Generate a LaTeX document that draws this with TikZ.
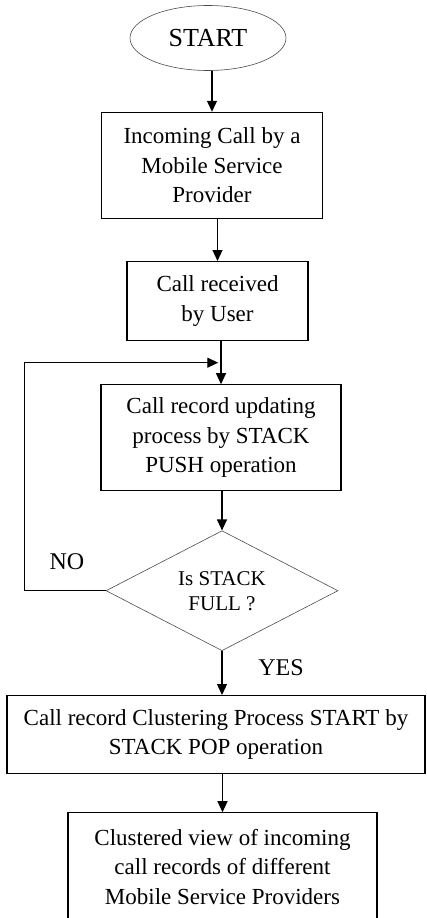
\documentclass[tikz,border=0pt]{standalone}
\usepackage{fontspec}
\setmainfont{Liberation Serif}
\usetikzlibrary{
    arrows.meta,
    shapes.geometric,
    positioning,
    calc
}
\tikzstyle{terminal} = [
    ellipse,
    draw=black!70,
    line width=0.6pt,
    minimum width=156pt,
    minimum height=65pt,
    inner sep=0pt,
    font=\fontsize{26}{30}\selectfont
]
\tikzstyle{process} = [
    rectangle,
    draw=black,
    line width=1.2pt,
    align=center,
    inner sep=0pt,
    font=\fontsize{23}{29.5}\selectfont
]
\tikzstyle{decision} = [
    diamond,
    aspect=1.93,
    draw=black!70,
    line width=0.6pt,
    minimum width=232pt,
    minimum height=120pt,
    inner sep=0pt,
    align=center,
    font=\fontsize{21}{25}\selectfont
]
\tikzstyle{flow} = [
    -{Triangle[length=11pt,width=10pt]},
    line width=1.2pt,
    draw=black
]
\tikzstyle{answer} = [
    font=\fontsize{24}{28}\selectfont
]

\begin{document}
\begin{tikzpicture}
        \useasboundingbox (0,0) rectangle (426pt,-918pt);
        % Flow diagram
        \node[terminal] (start) at (208pt,-38pt) {START};
        \node[process, minimum width=221pt, minimum height=106pt, below=41pt of start, xshift=4pt] (incoming) {Incoming Call by a\\Mobile Service\\Provider};
        \node[process, minimum width=181pt, minimum height=79pt, below=42pt of incoming, xshift=5.5pt] (received) {Call received\\by User};
        \node[process, minimum width=240pt, minimum height=106pt, below=43pt of received, xshift=3.5pt] (push) {Call record updating\\process by STACK\\PUSH operation};
        \node[decision, below=39pt of push, xshift=1pt] (full) {Is STACK\\FULL ?};
        \node[process, minimum width=418pt, minimum height=78pt, below=44pt of full, xshift=-6pt] (pop) {Call record Clustering Process START by\\STACK POP operation};
        \node[process, minimum width=309pt, minimum height=108pt, below=38pt of pop, xshift=6.5pt] (view) {Clustered view of incoming\\call records of different\\Mobile Service Providers};

        % Arrows
        \draw[flow] (incoming.north |- start.south) -- (incoming.north);
        \draw[flow] (received.north |- incoming.south) -- (received.north);
        \draw[flow] (push.north |- received.south) -- (push.north);
        \draw[flow] (full.north |- push.south) -- (full.north);
        \draw[flow] (full.south) -- (full.south |- pop.north);
        \draw[flow] (view.north |- pop.south) -- (view.north);

        % Loop back while the stack is not full
        \coordinate (join) at ($(received.south)!0.5!(push.north)$);
        \draw[flow, shorten >=1pt] (full.west) -- ++(-81pt,0) |- (join);
        \node[answer] (no) at (67pt,-562pt) {NO};
        \node[answer] (yes) at (281pt,-668pt) {YES};
    \end{tikzpicture}
\end{document}
